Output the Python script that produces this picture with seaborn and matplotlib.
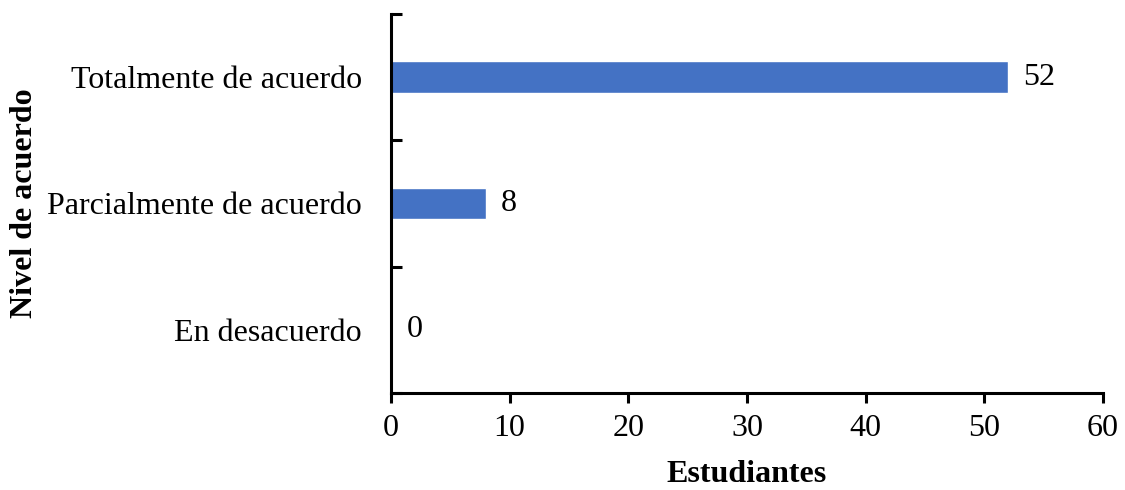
import matplotlib
matplotlib.use("Agg")
import matplotlib.pyplot as plt
import seaborn as sns
import pandas as pd
import numpy as np

categories = ["Totalmente de acuerdo", "Parcialmente de acuerdo", "En desacuerdo"]
students = [52, 8, 0]
x_ticks = [0, 10, 20, 30, 40, 50, 60]

sns.set_style("white")
plt.rcParams["font.family"] = ["Liberation Serif", "DejaVu Serif"]
plt.rcParams["text.color"] = "black"
plt.rcParams["axes.labelcolor"] = "black"
plt.rcParams["xtick.color"] = "black"
plt.rcParams["ytick.color"] = "black"

FS = 23

df = pd.DataFrame({"Nivel": categories, "Estudiantes": students})

fig = plt.figure(figsize=(11.25, 4.9), dpi=100)
ax = fig.add_axes([391 / 1125, 1 - 393 / 490, (1103 - 391) / 1125, (393 - 14) / 490])

sns.barplot(data=df, x="Estudiantes", y="Nivel", orient="h", order=categories,
            color="#4472C4", width=0.25, saturation=1, ax=ax)

for c in ax.containers:
    ax.bar_label(c, labels=[f"{v:d}" for v in students], padding=11, fontsize=FS,
                 color="black")

ax.set_xlim(0, 60)
ax.set_ylim(len(categories) - 0.5, -0.5)
ax.set_xticks(x_ticks)
ax.set_xticklabels([str(t) for t in x_ticks], fontsize=FS)
ax.tick_params(axis="x", direction="out", length=7, width=2.2, pad=8, bottom=True)

ax.set_yticks(range(len(categories)))
ax.set_yticklabels(categories, fontsize=FS)
ax.tick_params(axis="y", which="major", length=0, pad=21)
ax.set_yticks(np.arange(-0.5, len(categories), 1.0), minor=True)
ax.tick_params(axis="y", which="minor", direction="in", length=8, width=2.2, left=True)

for side in ["top", "right"]:
    ax.spines[side].set_visible(False)
for side in ["left", "bottom"]:
    ax.spines[side].set_linewidth(2.2)
    ax.spines[side].set_color("black")

ax.set_xlabel("Estudiantes", fontsize=FS, fontweight="bold", labelpad=12)
ax.set_ylabel("Nivel de acuerdo", fontsize=FS, fontweight="bold", labelpad=6)
ax.grid(False)

fig.savefig("out.png", dpi=100)
